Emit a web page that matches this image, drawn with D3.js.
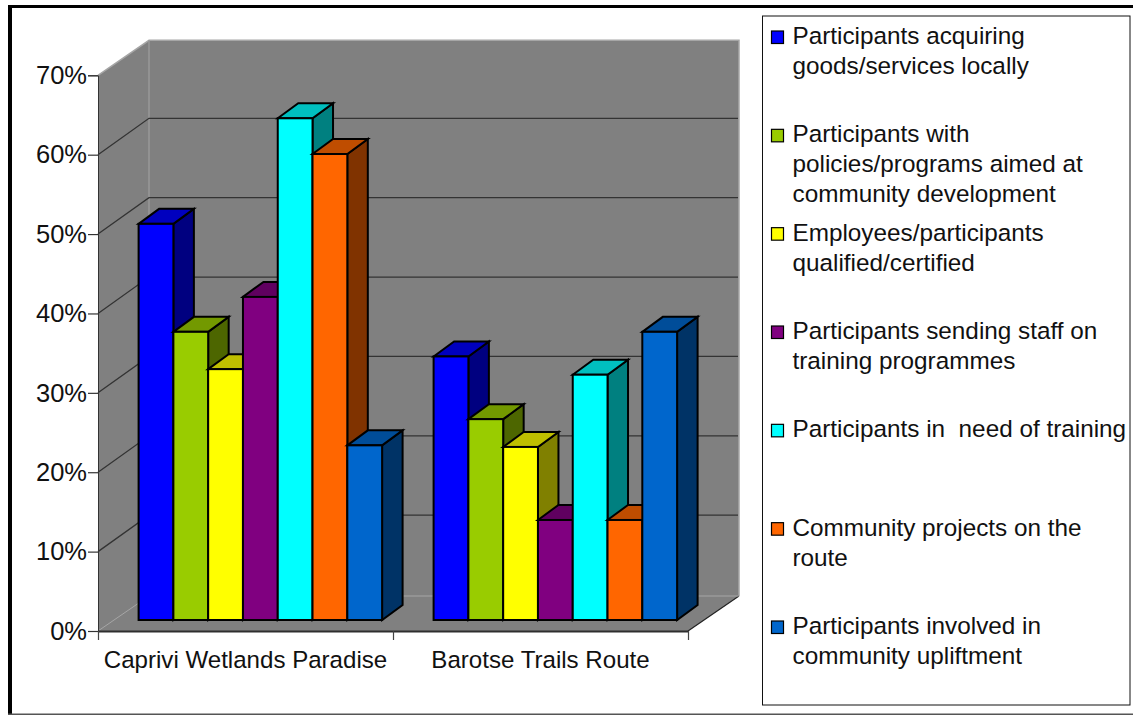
<!DOCTYPE html>
<html><head><meta charset="utf-8">
<script src="https://cdn.jsdelivr.net/npm/d3@7"></script>
<style>html,body{margin:0;padding:0;background:#fff}svg{display:block}text{font-family:"Liberation Sans",Arial,sans-serif;fill:#111}</style>
</head><body><svg id="c" width="1133" height="715"></svg>
<script>
const categories = ["Caprivi Wetlands Paradise", "Barotse Trails Route"];
const seriesNames = [
  "Participants acquiring goods/services locally",
  "Participants with policies/programs aimed at community development",
  "Employees/participants qualified/certified",
  "Participants sending staff on training programmes",
  "Participants in  need of training",
  "Community projects on the route",
  "Participants involved in community upliftment"
];
const legendLines = [
  ["Participants acquiring", "goods/services locally"],
  ["Participants with", "policies/programs aimed at", "community development"],
  ["Employees/participants", "qualified/certified"],
  ["Participants sending staff on", "training programmes"],
  ["Participants in  need of training"],
  ["Community projects on the", "route"],
  ["Participants involved in", "community upliftment"]
];
const capriviValues = [49.9, 36.3, 31.6, 40.7, 63.2, 58.7, 22.0];
const barotseValues = [33.2, 25.3, 21.8, 12.6, 30.9, 12.6, 36.3];
const valuesByCategory = [capriviValues, barotseValues];
const frontColors = ["#0000ff", "#99cc00", "#ffff00", "#800080", "#00ffff", "#ff6600", "#0066cc"];
const topColors   = ["#0000bf", "#739900", "#bfbf00", "#600060", "#00bfbf", "#bf4d00", "#004d99"];
const sideColors  = ["#000080", "#4d6600", "#808000", "#400040", "#008080", "#803300", "#003366"];
const yTicks = [0, 10, 20, 30, 40, 50, 60, 70];

const svg = d3.select("#c");
const L = 98, R = 688, Y0 = 631, Y70 = 75.3;      // front plane of the plot
const wallDx = 51, wallDy = -35, gridDy = -36.4;  // depth of the box
const barDx = 20.5, barDy = -15;                  // depth of one bar
const baseDy = -11;                               // bars stand inside the floor

const y = d3.scaleLinear().domain([0, 70]).range([Y0, Y70]);
const x0 = d3.scaleBand().domain(categories).range([L, R]);
const x1 = d3.scaleBand().domain(seriesNames).range([0, 243.5]);
const barInset = 40.6;

// frame
svg.append("rect").attr("x", 8).attr("y", 5).attr("width", 1125).attr("height", 3).attr("fill", "#000");
svg.append("rect").attr("x", 8).attr("y", 5).attr("width", 4).attr("height", 710).attr("fill", "#000");
svg.append("rect").attr("x", 8).attr("y", 713.5).attr("width", 1125).attr("height", 1.5).attr("fill", "#555");

// walls and floor
const wall = "#808080", edge = "#a6a6a6", grid = "#333333";
svg.append("path").attr("fill", wall).attr("d",
  `M${L},${Y0}L${L},${y(70)}L${L + wallDx},${y(70) + wallDy}L${R + wallDx},${y(70) + wallDy}L${R + wallDx},${Y0 + wallDy}L${R},${Y0}Z`);
svg.append("path").attr("fill", "none").attr("stroke", edge).attr("stroke-width", 1.5).attr("d",
  `M${L},${y(70)}L${L + wallDx},${y(70) + wallDy}L${R + wallDx},${y(70) + wallDy}L${R + wallDx},${Y0 + wallDy}`);
svg.append("path").attr("fill", "none").attr("stroke", "#222").attr("stroke-width", 1.2).attr("d",
  `M${R + wallDx},${Y0 + wallDy}L${R},${Y0}`);
svg.append("line").attr("x1", L + wallDx).attr("x2", L + wallDx).attr("y1", y(70) + wallDy).attr("y2", Y0 + wallDy)
  .attr("stroke", "#999").attr("stroke-width", 1.5);

yTicks.slice(1, -1).forEach(t => {
  svg.append("path").attr("fill", "none").attr("stroke", grid).attr("stroke-width", 1.3)
    .attr("d", `M${L},${y(t)}L${L + wallDx},${y(t) + gridDy}L${R + wallDx - 1},${y(t) + gridDy}`);
});
svg.append("path").attr("fill", "none").attr("stroke", "#a6a6a6").attr("stroke-width", 1)
  .attr("d", `M${L},${Y0}L${L + wallDx},${Y0 + wallDy}L${R + wallDx},${Y0 + wallDy}`);

// bars
categories.forEach((cat, ci) => {
  seriesNames.forEach((s, si) => {
    const v = valuesByCategory[ci][si];
    const xa = x0(cat) + barInset + x1(s), xb = xa + x1.bandwidth();
    const yb = y(0) + baseDy, yt = y(v) + baseDy;
    const g = svg.append("g").attr("stroke", "#000").attr("stroke-width", 2).attr("stroke-linejoin", "miter");
    g.append("path").attr("fill", sideColors[si])
      .attr("d", `M${xb},${yb}L${xb},${yt}L${xb + barDx},${yt + barDy}L${xb + barDx},${yb + barDy}Z`);
    g.append("path").attr("fill", topColors[si])
      .attr("d", `M${xa},${yt}L${xa + barDx},${yt + barDy}L${xb + barDx},${yt + barDy}L${xb},${yt}Z`);
    g.append("rect").attr("fill", frontColors[si])
      .attr("x", xa).attr("y", yt).attr("width", xb - xa).attr("height", yb - yt);
  });
});

// axes
const yAxis = d3.axisLeft(y).tickValues(yTicks).tickSize(10).tickPadding(1).tickFormat(d => d + "%");
const ga = svg.append("g").attr("transform", `translate(${L},0)`).call(yAxis);
ga.selectAll(".domain").attr("stroke", "#333").attr("stroke-width", 1);
ga.selectAll(".tick line").attr("stroke", "#333").attr("stroke-width", 1.2);
ga.selectAll("text").attr("font-size", 25.5).attr("font-family", null);

const pos = d3.scaleLinear().domain([0, categories.length]).range([L, R]);
const xAxis = d3.axisBottom(pos).tickValues(d3.range(categories.length + 1)).tickSize(9).tickSizeOuter(0).tickFormat("");
const gx = svg.append("g").attr("transform", `translate(0,${Y0})`).call(xAxis);
gx.selectAll(".domain").attr("stroke", "#2e2e2e").attr("stroke-width", 2);
gx.selectAll(".tick line").attr("stroke", "#444").attr("stroke-width", 1.2);

svg.selectAll("text.cat").data(categories).join("text").attr("class", "cat")
  .attr("x", d => x0(d) + x0.bandwidth() / 2).attr("y", 668)
  .attr("text-anchor", "middle").attr("font-size", 24.1).text(d => d);

// legend
svg.append("rect").attr("x", 762.5).attr("y", 16).attr("width", 367.5).attr("height", 689)
  .attr("fill", "#fff").attr("stroke", "#111").attr("stroke-width", 1);
const rowY = d3.scalePoint().domain(seriesNames).range([36, 626]);
const lineGap = 30;
seriesNames.forEach((s, si) => {
  const cy = rowY(s);
  svg.append("rect").attr("x", 771.5).attr("y", cy - 5).attr("width", 12).attr("height", 12.5)
    .attr("fill", frontColors[si]).attr("stroke", "#000").attr("stroke-width", 1.2);
  legendLines[si].forEach((ln, i) => {
    svg.append("text").attr("x", 792.5).attr("y", cy + 8 + i * lineGap)
      .attr("font-size", 24.3).style("white-space", "pre").text(ln);
  });
});
</script></body></html>
